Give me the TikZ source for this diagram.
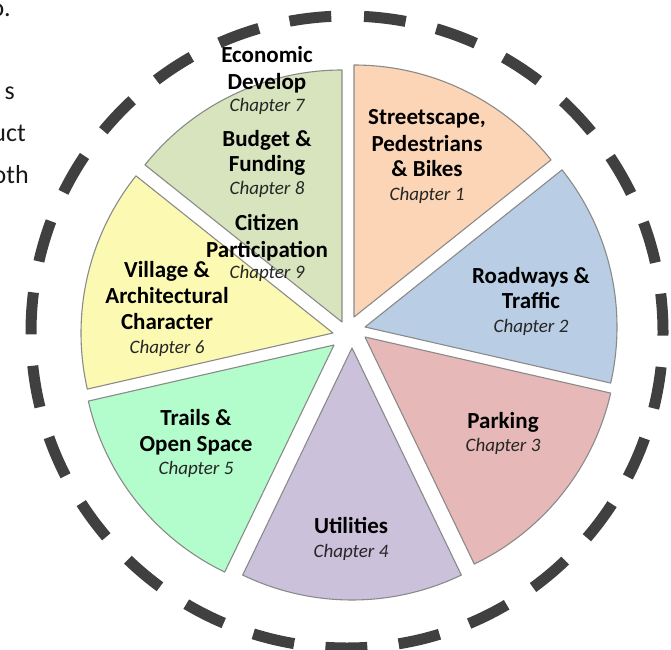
\documentclass[tikz,border=0pt]{standalone}
\usepackage{fontspec}
\setmainfont{Carlito}
\definecolor{cOrange}{HTML}{FBD5B5}
\definecolor{cBlue}{HTML}{B9CDE5}
\definecolor{cRed}{HTML}{E6B9B8}
\definecolor{cPurple}{HTML}{CCC1DA}
\definecolor{cMint}{HTML}{B3FCCB}
\definecolor{cYellow}{HTML}{FCFAB2}
\definecolor{cGreen}{HTML}{D7E4BD}
\definecolor{cEdge}{HTML}{8A8A8A}
\definecolor{cDash}{HTML}{404040}
\begin{document}
\begin{tikzpicture}[x=1pt,y=1pt,
  wedge/.style={draw=cEdge, line width=1.1pt, line join=round},
  hd/.style={font=\fontsize{23}{25}\selectfont\bfseries, inner sep=0pt, anchor=base, text=black},
  ch/.style={font=\fontsize{19}{22}\selectfont\itshape, inner sep=0pt, anchor=base, text=black!85},
  body/.style={font=\fontsize{26}{30}\selectfont, inner sep=0pt, anchor=base east, text=black!90},
  ring/.style={draw=cDash, line width=11pt, dash pattern=on 42pt off 31.5pt, dash phase=57.75pt}]
\useasboundingbox (0,0) rectangle (671,649);

% dashed ring
\coordinate (c) at (347,317);
\draw[ring] (c) ++(90:316) arc[start angle=90, delta angle=360, radius=316];

% wedges
\coordinate (aO) at (354,332);
\coordinate (aB) at (365,322);
\coordinate (aR) at (365,312);
\coordinate (aP) at (352,301);
\coordinate (aM) at (334,304);
\coordinate (aY) at (333,316);
\coordinate (aG) at (342,327);
\draw[wedge, fill=cOrange] (aO) -- ++(38.57:252) arc[start angle=38.57, end angle=90, radius=252] -- cycle;
\draw[wedge, fill=cBlue] (aB) -- ++(-12.86:252) arc[start angle=-12.86, end angle=38.57, radius=252] -- cycle;
\draw[wedge, fill=cRed] (aR) -- ++(-64.29:252) arc[start angle=-64.29, end angle=-12.86, radius=252] -- cycle;
\draw[wedge, fill=cPurple] (aP) -- ++(-115.71:252) arc[start angle=-115.71, end angle=-64.29, radius=252] -- cycle;
\draw[wedge, fill=cMint] (aM) -- ++(-167.14:252) arc[start angle=-167.14, end angle=-115.71, radius=252] -- cycle;
\draw[wedge, fill=cYellow] (aY) -- ++(141.43:252) arc[start angle=141.43, end angle=192.86, radius=252] -- cycle;
\draw[wedge, fill=cGreen] (aG) -- ++(90:252) arc[start angle=90, end angle=141.43, radius=252] -- cycle;

% green wedge labels
\node[hd] (g1) at (267,586) {Economic};
\node[hd] (g2) at (267,559) {Develop};
\node[ch] (g3) at (267,537) {Chapter 7};
\node[hd] (g4) at (267,502) {Budget \&};
\node[hd] (g5) at (267,477) {Funding};
\node[ch] (g6) at (267,454) {Chapter 8};
\node[hd] (g7) at (267,419) {Citizen};
\node[hd] (g8) at (267,392) {Participation};
\node[ch] (g9) at (267,371) {Chapter 9};

% orange
\node[hd] (o1) at (427,524) {Streetscape,};
\node[hd] (o2) at (427,497) {Pedestrians};
\node[hd] (o3) at (427,472) {\& Bikes};
\node[ch] (o4) at (427,449) {Chapter 1};

% blue
\node[hd] (b1) at (531,366) {Roadways \&};
\node[hd] (b2) at (531,341) {Traffic};
\node[ch] (b3) at (531,317) {Chapter 2};

% red
\node[hd] (r1) at (503,221) {Parking};
\node[ch] (r2) at (503,198) {Chapter 3};

% purple
\node[hd] (p1) at (351,116) {Utilities};
\node[ch] (p2) at (351,92) {Chapter 4};

% mint
\node[hd] (m1) at (196,224) {Trails \&};
\node[hd] (m2) at (196,198) {Open Space};
\node[ch] (m3) at (196,175) {Chapter 5};

% yellow
\node[hd] (y1) at (167,372) {Village \&};
\node[hd] (y2) at (167,346) {Architectural};
\node[hd] (y3) at (167,320) {Character};
\node[ch] (y4) at (167,296) {Chapter 6};

% cut-off body text at the left edge
\node[body] (t1) at (11,632) {o.};
\node[body] (t2) at (15,549) {s};
\node[body] (t3) at (26,507) {uct};
\node[body] (t4) at (29,465) {oth};
\end{tikzpicture}
\end{document}
